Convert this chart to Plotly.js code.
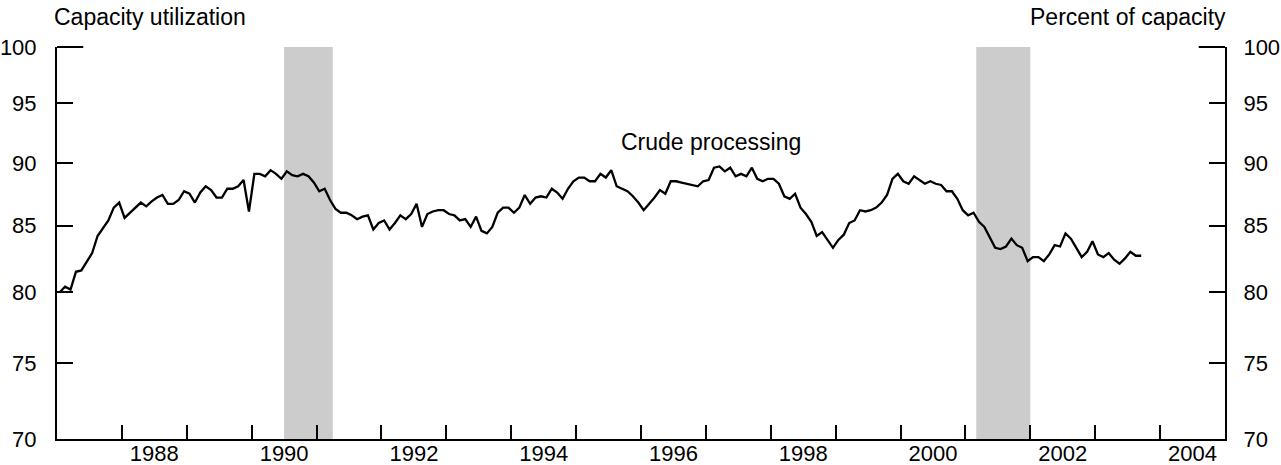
<!DOCTYPE html>
<html>
<head>
<meta charset="utf-8">
<script src="https://cdn.plot.ly/plotly-3.0.1.min.js"></script>
<style>
  html, body { margin: 0; padding: 0; background: #fff; }
  #chart { width: 1281px; height: 465px; }
</style>
</head>
<body>
<div id="chart"></div>
<script>
// Monthly crude processing capacity utilization, percent, starting Jan 1987
const startYear = 1987;
const crudeProcessing = [
  // 1987
  80.0, 80.4, 80.2, 81.5, 81.6, 82.2, 82.9, 84.2, 84.8, 85.4, 86.4, 86.8,
  // 1988
  85.6, 86.0, 86.4, 86.8, 86.5, 86.9, 87.2, 87.4, 86.7, 86.7, 87.0, 87.7,
  // 1989
  87.5, 86.8, 87.6, 88.1, 87.8, 87.2, 87.2, 87.9, 87.9, 88.1, 88.6, 86.1,
  // 1990
  89.1, 89.1, 88.9, 89.4, 89.1, 88.7, 89.3, 89.0, 88.9, 89.1, 88.9, 88.4,
  // 1991
  87.7, 87.9, 87.0, 86.3, 86.0, 86.0, 85.8, 85.5, 85.7, 85.8, 84.7, 85.2,
  // 1992
  85.4, 84.7, 85.2, 85.8, 85.5, 85.9, 86.7, 84.9, 85.9, 86.1, 86.2, 86.2,
  // 1993
  85.9, 85.8, 85.4, 85.5, 84.9, 85.7, 84.6, 84.4, 84.9, 86.0, 86.4, 86.4,
  // 1994
  86.0, 86.4, 87.4, 86.7, 87.2, 87.3, 87.2, 87.9, 87.6, 87.1, 87.9, 88.5,
  // 1995
  88.8, 88.8, 88.5, 88.5, 89.1, 88.8, 89.4, 88.1, 87.9, 87.7, 87.3, 86.8,
  // 1996
  86.2, 86.7, 87.2, 87.8, 87.5, 88.5, 88.5, 88.4, 88.3, 88.2, 88.1, 88.5,
  // 1997
  88.6, 89.6, 89.7, 89.3, 89.6, 88.9, 89.1, 88.9, 89.6, 88.7, 88.5, 88.7,
  // 1998
  88.7, 88.3, 87.3, 87.1, 87.5, 86.4, 85.9, 85.3, 84.2, 84.5, 83.9, 83.3,
  // 1999
  83.9, 84.3, 85.2, 85.4, 86.2, 86.1, 86.2, 86.4, 86.8, 87.4, 88.7, 89.1,
  // 2000
  88.5, 88.3, 88.9, 88.6, 88.3, 88.5, 88.3, 88.2, 87.7, 87.7, 87.1, 86.2,
  // 2001
  85.8, 86.0, 85.3, 84.9, 84.1, 83.3, 83.2, 83.4, 84.0, 83.5, 83.3, 82.3,
  // 2002
  82.6, 82.6, 82.3, 82.8, 83.5, 83.4, 84.4, 84.0, 83.3, 82.6, 83.0, 83.8,
  // 2003
  82.8, 82.6, 82.9, 82.4, 82.1, 82.5, 83.0, 82.7, 82.7
];

// Recession periods (decimal years)
const recessionStart = [1990.5, 2001.1667];
const recessionEnd   = [1991.25, 2002.0];

// Axis ticks
const yTicks = [70, 75, 80, 85, 90, 95, 100];
const yearTicks = [1988, 1989, 1990, 1991, 1992, 1993, 1994, 1995, 1996, 1997, 1998, 1999, 2000, 2001, 2002, 2003, 2004, 2005];
const yearLabels = ["1988", "1990", "1992", "1994", "1996", "1998", "2000", "2002", "2004"];

const xRange = [1987, 2005];
const yRange = [70, 100];

// mid-month decimal year positions
const xMonths = crudeProcessing.map((v, i) => startYear + (i + 0.5) / 12);
const labelPos = yearLabels.map(s => Number(s) + 0.5);

const FONT = '"Liberation Sans", Arial, Helvetica, sans-serif';
const FS = 22;
const FT = 23;

const traces = [
  {
    x: xMonths, y: crudeProcessing, type: 'scatter', mode: 'lines',
    line: { color: '#000', width: 2.3 }, hoverinfo: 'skip', xaxis: 'x', yaxis: 'y'
  },
  {
    x: xMonths, y: crudeProcessing, type: 'scatter', mode: 'lines',
    line: { color: 'rgba(0,0,0,0)', width: 0 }, hoverinfo: 'skip', xaxis: 'x2', yaxis: 'y2', showlegend: false
  }
];

const shapes = recessionStart.map((s, i) => ({
  type: 'rect', xref: 'x', yref: 'paper', x0: s, x1: recessionEnd[i], y0: 0, y1: 1,
  fillcolor: '#cccccc', line: { width: 0 }, layer: 'below'
}));
// longer top ticks at 100 on both sides
shapes.push({ type: 'line', xref: 'paper', yref: 'paper', x0: 0, x1: 0.0225, y0: 1, y1: 1, line: { color: '#000', width: 2 } });
shapes.push({ type: 'line', xref: 'paper', yref: 'paper', x0: 0.9775, x1: 1, y0: 1, y1: 1, line: { color: '#000', width: 2 } });

const yCommon = {
  type: 'log',
  range: [Math.log10(yRange[0]), Math.log10(yRange[1])],
  tickvals: yTicks, ticktext: yTicks.map(String),
  ticks: 'inside', ticklen: 16, tickwidth: 2, tickcolor: '#000',
  showline: true, linewidth: 2, linecolor: '#000',
  showgrid: false, zeroline: false,
  tickfont: { family: FONT, size: FS, color: '#000' },
  fixedrange: true
};

const layout = {
  width: 1281, height: 465,
  margin: { l: 57, r: 56, t: 47, b: 26 },
  paper_bgcolor: '#fff', plot_bgcolor: 'rgba(0,0,0,0)',
  showlegend: false,
  font: { family: FONT, color: '#000' },
  xaxis: {
    range: xRange, tickvals: yearTicks, showticklabels: false,
    ticks: 'inside', ticklen: 14, tickwidth: 2, tickcolor: '#000',
    showline: true, linewidth: 2, linecolor: '#000',
    showgrid: false, zeroline: false, fixedrange: true
  },
  xaxis2: {
    overlaying: 'x', side: 'bottom', anchor: 'y',
    range: xRange, tickvals: labelPos, ticktext: yearLabels,
    ticks: '', showline: false, showgrid: false, zeroline: false,
    tickfont: { family: FONT, size: FS, color: '#000' }, fixedrange: true,
    ticklabelstandoff: -1
  },
  yaxis: Object.assign({}, yCommon, { side: 'left', ticklabelstandoff: 14 }),
  yaxis2: Object.assign({}, yCommon, { side: 'right', overlaying: 'y', anchor: 'x', ticklabelstandoff: 12 }),
  shapes: shapes,
  annotations: [
    { text: 'Capacity utilization', xref: 'paper', yref: 'paper', x: 0, y: 1,
      xanchor: 'left', yanchor: 'bottom', xshift: -5, yshift: 15, showarrow: false,
      font: { family: FONT, size: FT, color: '#000' } },
    { text: 'Percent of capacity', xref: 'paper', yref: 'paper', x: 1, y: 1,
      xanchor: 'right', yanchor: 'bottom', xshift: 3, yshift: 15, showarrow: false,
      font: { family: FONT, size: FT, color: '#000' } },
    { text: 'Crude processing', xref: 'x', yref: 'y', x: 1997.08, y: Math.log10(91.75),
      xanchor: 'center', yanchor: 'middle', showarrow: false,
      font: { family: FONT, size: FT, color: '#000' } }
  ]
};

Plotly.newPlot('chart', traces, layout, { staticPlot: true, displayModeBar: false });
</script>
</body>
</html>
